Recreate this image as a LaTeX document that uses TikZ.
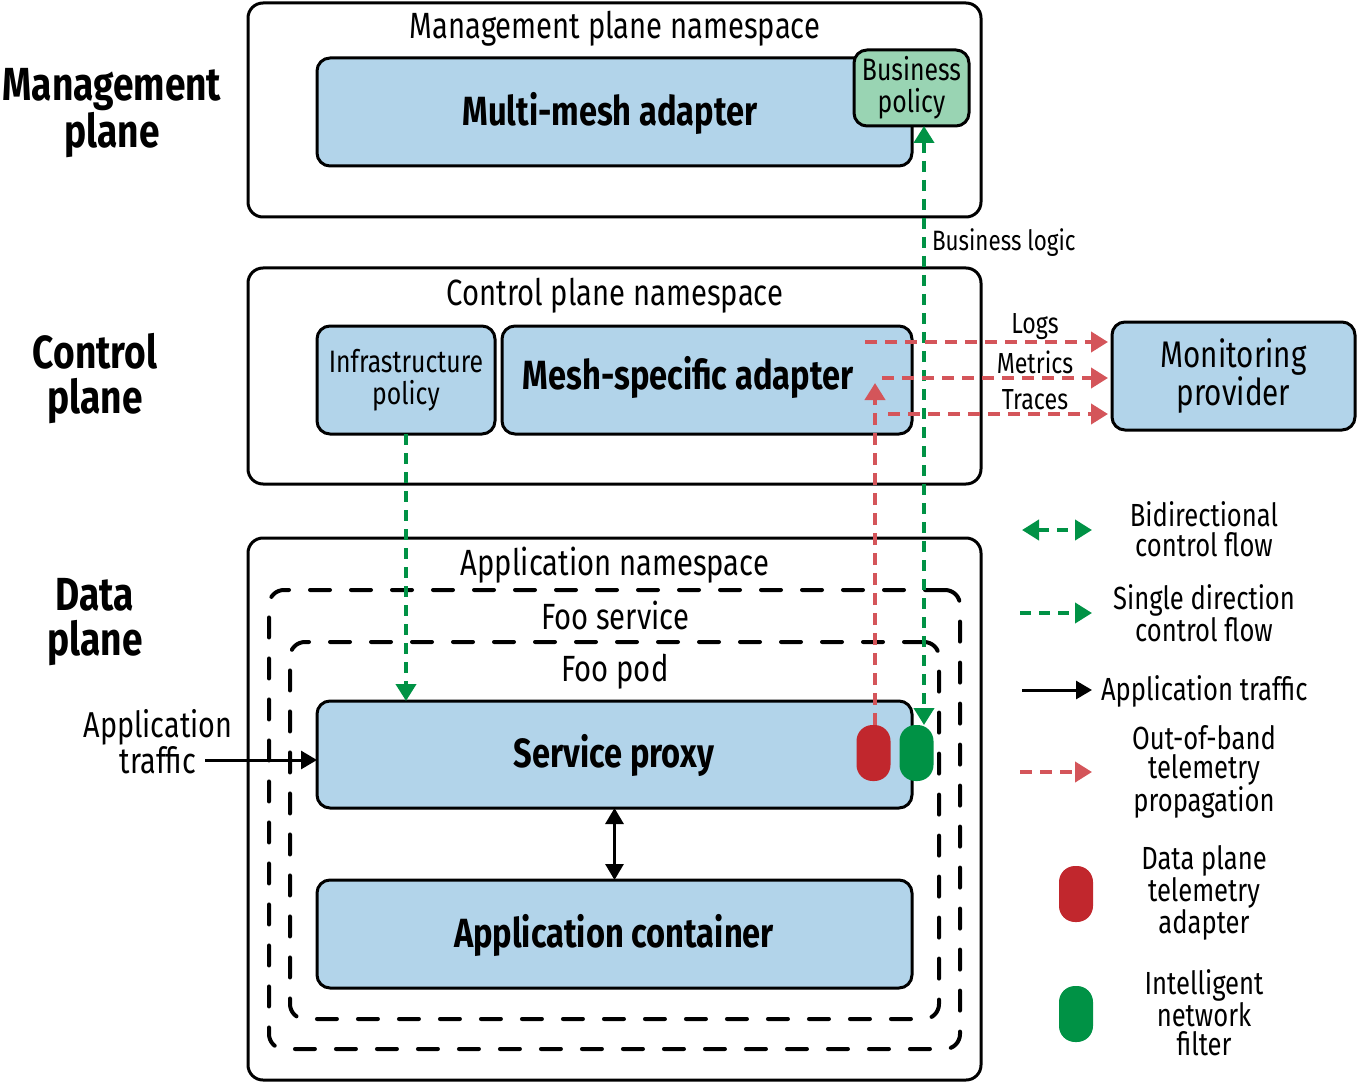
\documentclass[tikz,border=0pt]{standalone}
\usepackage{fontspec}
\setmainfont[FakeStretch=0.8]{Fira Sans}
\usetikzlibrary{arrows.meta}
\definecolor{lblue}{RGB}{178,212,234}
\definecolor{mint}{RGB}{153,212,179}
\definecolor{cgreen}{RGB}{0,146,69}
\definecolor{cred}{RGB}{212,85,90}
\definecolor{pillred}{RGB}{193,39,45}
\definecolor{pillgreen}{RGB}{0,146,69}
\tikzset{
  gtip/.tip={Triangle[length=17pt,width=20pt,fill=cgreen]},
  rtip/.tip={Triangle[length=17pt,width=20pt,fill=cred]},
  ktip/.tip={Triangle[length=16pt,width=18pt]},
}
\begin{document}
\begin{tikzpicture}[x=1pt,y=-1pt,
  every node/.style={inner sep=0pt, outer sep=0pt},
  nsbox/.style={draw, line width=3pt, rounded corners=15pt},
  comp/.style={draw, line width=3pt, rounded corners=13pt, fill=lblue},
  dbox/.style={draw, line width=4pt, rounded corners=15pt, line cap=round, dash pattern=on 20pt off 21pt},
  pill/.style={rounded corners=16pt, minimum width=34pt, minimum height=56pt},
  nstxt/.style={font=\fontsize{36.5}{34}\selectfont, align=center},
  txt/.style={font=\fontsize{32}{29.5}\selectfont, align=center},
  montxt/.style={font=\fontsize{37}{35}\selectfont, align=center},
  apptxt/.style={font=\fontsize{36}{33}\selectfont, align=center},
  btxt/.style={font=\bfseries\fontsize{40.8}{42}\selectfont, align=center},
  ltxt/.style={font=\bfseries\fontsize{46.4}{45}\selectfont, align=center},
  stxt/.style={font=\fontsize{31}{32}\selectfont, align=center},
  lbl/.style={font=\fontsize{29}{29}\selectfont},
  blbl/.style={font=\fontsize{28}{28}\selectfont},
  gflow/.style={draw=cgreen, line width=4pt, dash pattern=on 11pt off 8pt},
  rflow/.style={draw=cred, line width=4pt, dash pattern=on 12pt off 8pt},
]
\useasboundingbox (0,0) rectangle (1357,1083);

% ---------- Management plane ----------
\node[nsbox, minimum width=733pt, minimum height=214pt] (mns) at (614.5,110) {};
\node[nstxt] (mnst) at (615,28.5) {Management plane namespace};
\node[comp, minimum width=595pt, minimum height=108pt] (mma) at (614.5,112) {};
\node[btxt] (mmat) at (610,113) {Multi-mesh adapter};
\node[draw, line width=3pt, rounded corners=13pt, fill=mint, minimum width=115pt, minimum height=76pt, stxt] (bp) at (911.5,88) {Business\\policy};

% ---------- Control plane ----------
\node[nsbox, minimum width=733pt, minimum height=216pt] (cns) at (614.5,376) {};
\node[nstxt] (cnst) at (615,295.5) {Control plane namespace};
\node[comp, minimum width=178pt, minimum height=108pt, stxt] (ip) at (406,380) {Infrastructure\\policy};
\node[comp, minimum width=410pt, minimum height=108pt] (msa) at (707,380) {};
\node[btxt] (msat) at (688,377) {Mesh-specific adapter};
\node[comp, minimum width=243pt, minimum height=108pt, montxt] (mon) at (1233.5,376) {Monitoring\\provider};

% ---------- Data plane ----------
\node[nsbox, minimum width=733pt, minimum height=542pt] (ans) at (614.5,809) {};
\node[nstxt] (anst) at (615,565.5) {Application namespace};
\node[dbox, minimum width=691pt, minimum height=459pt] (fs) at (614.5,819.5) {};
\node[nstxt] (fst) at (615,615) {Foo service};
\node[dbox, minimum width=649pt, minimum height=377pt] (fp) at (614.5,830.5) {};
\node[nstxt] (fpt) at (615,672) {Foo pod};
\node[comp, minimum width=595pt, minimum height=107pt] (sp) at (614.5,754.5) {};
\node[btxt] (spt) at (614,755) {Service proxy};
\node[comp, minimum width=595pt, minimum height=108pt] (ac) at (614.5,934) {};
\node[btxt] (act) at (614,935) {Application container};
\node[pill, fill=pillred] (rp) at (873.5,753) {};
\node[pill, fill=pillgreen] (gp) at (916.5,753) {};

% ---------- Left labels ----------
\node[ltxt] (lm) at (112,113) {Management\\plane};
\node[ltxt] (lc) at (95,379) {Control\\plane};
\node[ltxt] (ld) at (95,622) {Data\\plane};
\node[apptxt] (lat) at (158,742) {Application\\traffic};

% ---------- Connectors ----------
\coordinate (atin) at (205,760);
\draw[line width=3pt, -{ktip}] (atin) -- (atin -| sp.west);
\draw[line width=3pt, {ktip}-{ktip}] (sp.south) -- (ac.north);

\draw[gflow, -{gtip}] (ip.south) -- (ip.south |- sp.north);
\draw[gflow, {gtip}-{gtip}] ([xshift=12.5pt]bp.south) -- ([xshift=7.5pt]gp.north);
\node[blbl, anchor=west] (bl) at (932,243) {Business logic};

\coordinate (rtop) at (875,383);
\draw[rflow, -{rtip}] ([xshift=1.5pt]rp.north) -- (rtop);
\coordinate (lg) at (865,342);
\coordinate (mt) at (882,378);
\coordinate (tr) at (888,414);
\draw[rflow, -{rtip}] (lg) -- ([xshift=-4pt]lg -| mon.west);
\draw[rflow, -{rtip}] (mt) -- ([xshift=-4pt]mt -| mon.west);
\draw[rflow, -{rtip}] (tr) -- ([xshift=-4pt]tr -| mon.west);
\node[lbl] (lgt) at (1035,327) {Logs};
\node[lbl] (mtt) at (1035,362) {Metrics};
\node[lbl] (trt) at (1035,400) {Traces};

% ---------- Legend ----------
\coordinate (l1a) at (1022,530); \coordinate (l1b) at (1092,530);
\draw[gflow, {gtip}-{gtip}] (l1a) -- (l1b);
\node[txt] (l1t) at (1204,529) {Bidirectional\\control flow};
\coordinate (l2a) at (1020,613); \coordinate (l2b) at (1092,613);
\draw[gflow, -{gtip}] (l2a) -- (l2b);
\node[txt] (l2t) at (1204,613) {Single direction\\control flow};
\coordinate (l3a) at (1022,690); \coordinate (l3b) at (1092,690);
\draw[line width=3pt, -{ktip}] (l3a) -- (l3b);
\node[txt, anchor=west] (l3t) at (1101,691) {Application traffic};
\coordinate (l4a) at (1020,772); \coordinate (l4b) at (1092,772);
\draw[rflow, -{rtip}] (l4a) -- (l4b);
\node[txt] (l4t) at (1204,772) {Out-of-band\\telemetry\\propagation};
\node[pill, fill=pillred] (l5p) at (1076,894) {};
\node[txt] (l5t) at (1204,893) {Data plane\\telemetry\\adapter};
\node[pill, fill=pillgreen] (l6p) at (1076,1014) {};
\node[txt] (l6t) at (1204,1013) {Intelligent\\network\\filter};
\end{tikzpicture}
\end{document}
